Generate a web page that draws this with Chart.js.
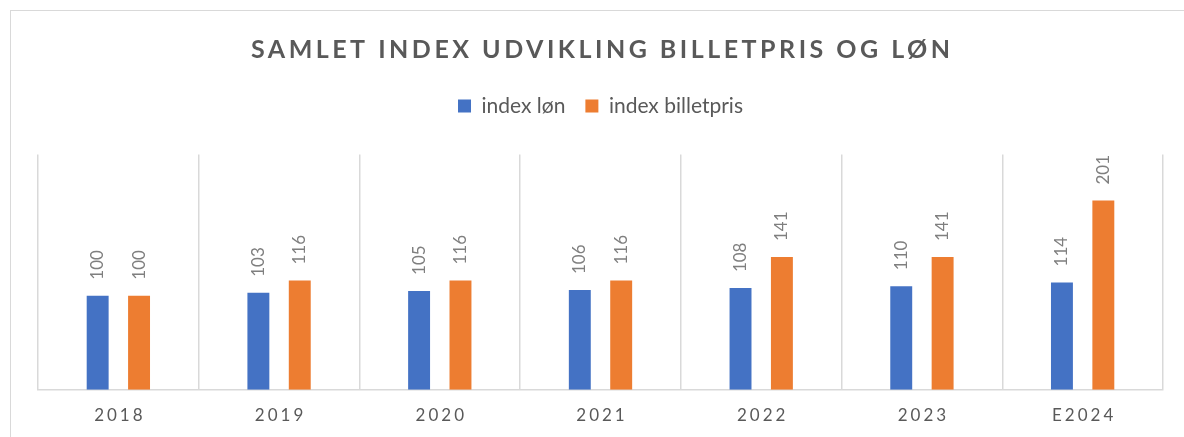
<!DOCTYPE html>
<html lang="da">
<head>
    <meta charset="UTF-8">
    <title>Samlet index udvikling billetpris og løn</title>
    <script src="https://cdn.jsdelivr.net/npm/chart.js"></script>
    <style>
        body { margin: 0; background: #fff; }
        #wrap { position: relative; width: 1184px; height: 437px; overflow: hidden; }
        #frame { position: absolute; left: 10px; top: 10px; width: 1200px; height: 460px; border: 1px solid #d9d9d9; }
        canvas { position: absolute; left: 0; top: 0; }
    </style>
</head>
<body>
<div id="wrap">
    <div id="frame"></div>
    <canvas id="indexChart" width="1184" height="437"></canvas>
</div>
<script>
    const years = ['2018', '2019', '2020', '2021', '2022', '2023', 'E2024'];
    const indexLon = [100, 103, 105, 106, 108, 110, 114];
    const indexBilletpris = [100, 116, 116, 116, 141, 141, 201];
    const titleText = 'SAMLET INDEX UDVIKLING BILLETPRIS OG LØN';

    const textGray = '#595959';
    const fontFamily = 'Lato, "Open Sans", sans-serif';

    // extra gap between the legend and the plot
    const legendGap = {
        id: 'legendGap',
        beforeInit(chart) {
            const fit = chart.legend.fit;
            chart.legend.fit = function () {
                fit.call(this);
                this.height += 28;
            };
        }
    };

    // title and x labels need letter spacing, so they are drawn here on top of
    // the (transparent) built-in ones; bar values are drawn rotated
    const textPlugin = {
        id: 'textPlugin',
        afterDatasetsDraw(chart) {
            const ctx = chart.ctx;
            ctx.save();
            ctx.fillStyle = '#7f7f7f';
            ctx.font = '17px ' + fontFamily;
            ctx.textAlign = 'left';
            ctx.textBaseline = 'middle';
            chart.data.datasets.forEach((ds, i) => {
                chart.getDatasetMeta(i).data.forEach((bar, j) => {
                    ctx.save();
                    ctx.translate(bar.x, bar.y - 16);
                    ctx.rotate(-Math.PI / 2);
                    ctx.fillText(ds.data[j], 0, 0);
                    ctx.restore();
                });
            });
            ctx.restore();
        },
        afterDraw(chart) {
            const ctx = chart.ctx;
            ctx.save();
            ctx.fillStyle = textGray;
            ctx.textAlign = 'center';
            ctx.textBaseline = 'middle';

            ctx.letterSpacing = '3.5px';
            ctx.font = 'bold 25px ' + fontFamily;
            const tb = chart.titleBlock;
            ctx.fillText(titleText, (tb.left + tb.right) / 2 + 1.75, (tb.top + tb.bottom) / 2 + 3);

            ctx.letterSpacing = '3px';
            ctx.font = '17px ' + fontFamily;
            const xs = chart.scales.x;
            years.forEach((y, i) => {
                ctx.fillText(y, xs.getPixelForValue(i) + 1.5, 416);
            });
            ctx.restore();
        }
    };

    const ctx = document.getElementById('indexChart').getContext('2d');
    new Chart(ctx, {
        type: 'bar',
        data: {
            labels: years,
            datasets: [
                {
                    label: 'index løn',
                    data: indexLon,
                    backgroundColor: '#4472C4',
                    categoryPercentage: 0.515,
                    barPercentage: 0.53
                },
                {
                    label: 'index billetpris',
                    data: indexBilletpris,
                    backgroundColor: '#ED7D31',
                    categoryPercentage: 0.515,
                    barPercentage: 0.53
                }
            ]
        },
        options: {
            responsive: false,
            animation: false,
            layout: { padding: { left: 38, right: 21, top: 18, bottom: 28 } },
            plugins: {
                title: {
                    display: true,
                    text: titleText,
                    color: 'transparent',
                    font: { family: fontFamily, size: 22, weight: 'bold' },
                    padding: { top: 11, bottom: 20 }
                },
                legend: {
                    display: true,
                    position: 'top',
                    labels: {
                        color: textGray,
                        font: { family: fontFamily, size: 21 },
                        boxWidth: 13,
                        boxHeight: 13,
                        padding: 20
                    }
                },
                tooltip: { enabled: false }
            },
            scales: {
                x: {
                    grid: { color: '#d9d9d9', lineWidth: 1.5, drawTicks: false, offset: true },
                    border: { color: '#d9d9d9', width: 1.5 },
                    ticks: { color: 'transparent', padding: 0, font: { family: fontFamily, size: 16 } }
                },
                y: {
                    display: false,
                    min: 0,
                    max: 250
                }
            }
        },
        plugins: [legendGap, textPlugin]
    });
</script>
</body>
</html>
